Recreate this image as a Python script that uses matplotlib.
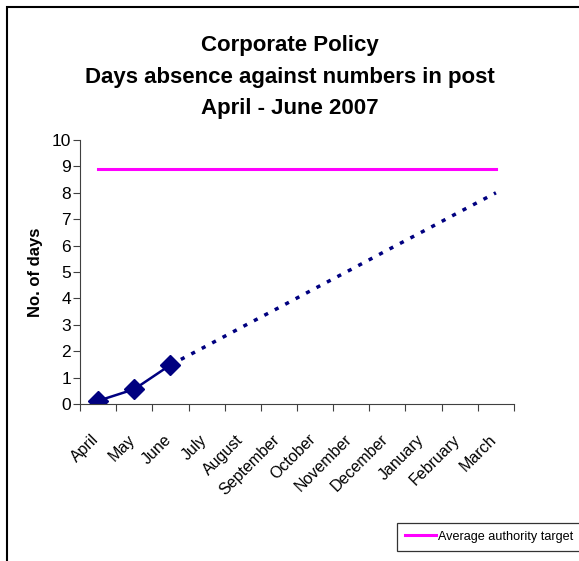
import matplotlib.pyplot as plt
from matplotlib.patches import Rectangle
from matplotlib.transforms import ScaledTranslation

plt.rcParams['font.family'] = ['Liberation Sans', 'DejaVu Sans']

# --- datos ---
months = ['April', 'May', 'June', 'July', 'August', 'September', 'October',
          'November', 'December', 'January', 'February', 'March']
actual = [0.12, 0.56, 1.48]
projection = [1.48, 2.2, 2.93, 3.65, 4.38, 5.1, 5.83, 6.55, 7.28, 8.0]
target = [8.9] * 12

fig = plt.figure(figsize=(5.79, 5.61), dpi=100)
ax = fig.add_axes([80 / 579, 1 - 404 / 561, 434 / 579, 264 / 561])

x_all = range(len(months))
ax.plot(x_all, target, color='#FF00FF', lw=2.2, label='Average authority target')
ax.plot(range(2, 12), projection, color='#000080', lw=2.5,
        linestyle=(0, (1.2, 2.2)))
ax.plot(range(3), actual, color='#000080', lw=1.8, marker='D',
        markersize=10, markerfacecolor='#000080')

ax.set_xlim(-0.5, 11.5)
ax.set_ylim(0, 10)
ax.set_yticks(range(11))
ax.set_xticks([i - 0.5 for i in range(13)])
ax.set_xticklabels([])
ax.set_xticks(list(x_all), minor=True)
ax.set_xticklabels(months, minor=True, rotation=45, ha='right', va='top',
                   rotation_mode='anchor', fontsize=11.5)
ax.tick_params(axis='x', which='minor', length=0, pad=20)
ax.tick_params(axis='x', which='major', length=5, direction='out', color='#404040')
ax.tick_params(axis='y', length=5, direction='out', labelsize=12.5, color='#404040', pad=1.5)

# desplazar etiquetas del eje x un poco a la izquierda
shift = ScaledTranslation(-7 / 100, 0, fig.dpi_scale_trans)
for lbl in ax.get_xticklabels(minor=True):
    lbl.set_transform(lbl.get_transform() + shift)

for s in ['top', 'right']:
    ax.spines[s].set_visible(False)
for s in ['left', 'bottom']:
    ax.spines[s].set_color('#404040')

ax.set_ylabel('No. of days', fontsize=12, fontweight='bold', labelpad=6)

fig.text(0.5, 1 - 77 / 561, 'Corporate Policy\nDays absence against numbers in post\nApril - June 2007',
         ha='center', va='center', fontsize=16, fontweight='bold', linespacing=1.68)

leg = ax.legend(loc='lower left', bbox_to_anchor=(397 / 579, 1 - 551 / 561, 0.5, 0.05),
                bbox_transform=fig.transFigure, frameon=True, fancybox=False,
                fontsize=9.1, handlelength=2.4, borderpad=0.65, handletextpad=0.2,
                borderaxespad=0)
leg.get_frame().set_edgecolor('black')
leg.get_frame().set_linewidth(0.9)

fig.patches.append(Rectangle((7 / 579, -0.1), 1.2, 1.1 - 7 / 561, transform=fig.transFigure,
                             fill=False, edgecolor='black', lw=1.5))

fig.savefig('out.png', dpi=100)
